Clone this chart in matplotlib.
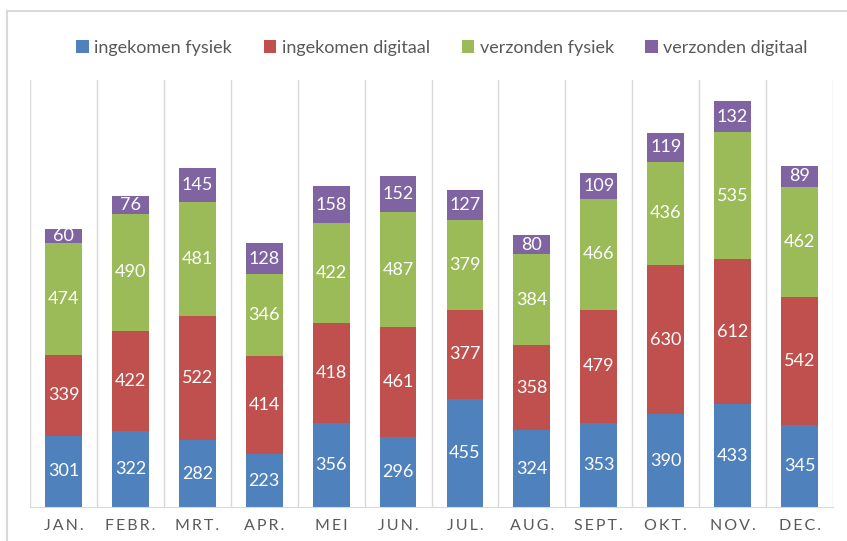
import matplotlib.pyplot as plt
from matplotlib.lines import Line2D
import numpy as np

months = ["JAN.", "FEBR.", "MRT.", "APR.", "MEI", "JUN.", "JUL.", "AUG.",
          "SEPT.", "OKT.", "NOV.", "DEC."]
series_names = ["ingekomen fysiek", "ingekomen digitaal",
                "verzonden fysiek", "verzonden digitaal"]
ingekomen_fysiek = [301, 322, 282, 223, 356, 296, 455, 324, 353, 390, 433, 345]
ingekomen_digitaal = [339, 422, 522, 414, 418, 461, 377, 358, 479, 630, 612, 542]
verzonden_fysiek = [474, 490, 481, 346, 422, 487, 379, 384, 466, 436, 535, 462]
verzonden_digitaal = [60, 76, 145, 128, 158, 152, 127, 80, 109, 119, 132, 89]
colors = ["#4F81BD", "#C0504D", "#9BBB59", "#8064A2"]

plt.rcParams["font.family"] = ["Lato", "DejaVu Sans"]

fig = plt.figure(figsize=(8.47, 5.41), dpi=100)
ax = fig.add_axes([30 / 847, 34 / 541, 803 / 847, 427 / 541])

x = np.arange(len(months))
bottom = np.zeros(len(months))
all_series = [ingekomen_fysiek, ingekomen_digitaal, verzonden_fysiek, verzonden_digitaal]
for name, vals, col in zip(series_names, all_series, colors):
    vals = np.array(vals)
    bars = ax.bar(x, vals, width=0.55, bottom=bottom, color=col, label=name, zorder=2)
    ax.bar_label(bars, labels=[str(v) for v in vals], label_type="center",
                 color="white", fontsize=13)
    bottom += vals

ax.set_xlim(-0.5, len(months) - 0.5)
ax.set_ylim(0, 1800)

# vertical separators between categories
for b in np.arange(-0.5, len(months), 1.0):
    ax.axvline(b, color="#D9D9D9", lw=1, zorder=1)

for s in ["top", "left", "right"]:
    ax.spines[s].set_visible(False)
ax.spines["bottom"].set_color("#D9D9D9")
ax.set_yticks([])
ax.set_xticks(x)
ax.set_xticklabels(["\u2009".join(m) for m in months], color="#595959", fontsize=11.5)
ax.tick_params(axis="x", length=0, pad=9)

fig.legend(loc="upper center", bbox_to_anchor=(0.522, 0.957), ncol=4, frameon=False,
           fontsize=13, handlelength=0.7, handleheight=0.7, handletextpad=0.3,
           columnspacing=1.75, labelcolor="#595959")

# chart frame
fig.add_artist(Line2D([7 / 847, 1.0], [1 - 11 / 541, 1 - 11 / 541], color="#D9D9D9", lw=1.5))
fig.add_artist(Line2D([7 / 847, 7 / 847], [0, 1 - 11 / 541], color="#D9D9D9", lw=1.5))

fig.savefig("out.png", dpi=100)
